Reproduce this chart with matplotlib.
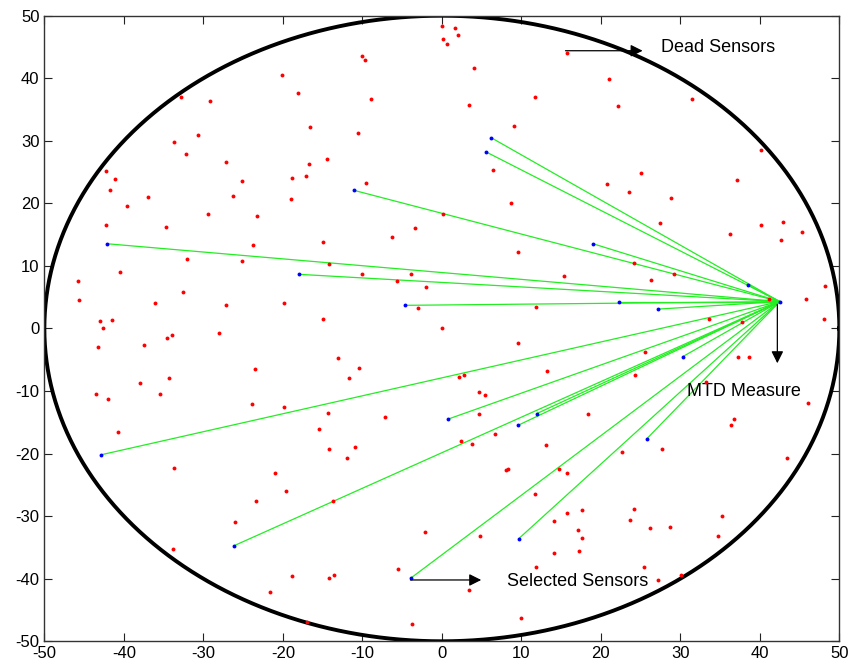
import numpy as np
import matplotlib
matplotlib.use('Agg')
import matplotlib.pyplot as plt

# === Daten ===
# tote Sensoren (rot)
dead_x = [-20.1, -18.1, -32.8, -29.2, -33.7, -30.7, -32.2, -27.1, -25.1, -26.3, -18.8, -19.0,
          -42.2, -41.1, -41.7, -37.0, -39.6, -29.4, -23.2, -42.2, -34.7,
          0.0, 1.6, 2.0, 0.1, 0.6, -10.0, -9.7, 4.1, -8.9, 3.4, 11.7, -16.6, -10.6, 9.1,
          -14.4, -16.7, -17.1, -9.5, 6.4, 8.7, 0.15, -3.4,
          15.8, 21.0, 22.2, 31.5, 40.15, 25.0, 20.8, 23.55, 28.8, 37.1, 27.5, 40.2, 42.9,
          -23.8, -32.1, -25.1, -40.5, -45.8, -45.6, -32.55, -36.1, -27.2, -19.85, -43.0, -41.45,
          -42.6, -34.6, -34.0, -28.0, -43.2, -37.5, -23.5, -38.0, -34.35, -43.5, -35.5, -42.0,
          -23.9, -19.85, -40.7,
          -6.3, -14.9, 9.55, -14.2, -10.1, -3.9, -5.6, -1.95, 15.4, -3.0, 11.9, -14.9, 0.0,
          9.55, -13.1, -10.45, -11.7, 13.2, 2.1, 2.8, 4.7, 5.4, -14.3, -7.2, 4.7, -15.4, 6.65,
          2.45, 3.76, 13.15, -14.2, -10.9,
          36.25, 45.3, 42.7, 24.2, 29.2, 26.35, 48.2, 45.85, 41.2, 48.1, 33.6, 37.7, 25.6,
          37.3, 38.6, 24.3, 33.2, 46.1, 18.4, 36.7, 36.4, 27.7,
          -33.7, -21.0, -19.6, -23.4, -26.0, -33.8, -18.8, -21.65,
          -11.9, -13.7, 8.1, 8.3, 14.7, 15.8, 11.7, 15.8, 14.1, 17.1, 17.2, 14.1, 11.8, -2.1,
          4.8, -5.5, -14.2, -13.6, 3.4, -3.8, 10.0, -16.9,
          22.7, 43.4, 17.6, 24.2, 23.7, 26.2, 28.7, 35.2, 34.7, 17.6, 25.4, 27.2, 30.1]
dead_y = [40.6, 37.6, 37.0, 36.4, 29.8, 30.9, 27.9, 26.6, 23.5, 21.2, 24.1, 20.65,
          25.2, 23.85, 22.1, 21.0, 19.6, 18.35, 18.0, 16.6, 16.3,
          48.3, 48.0, 46.9, 46.3, 45.5, 43.5, 42.9, 41.7, 36.7, 35.7, 37.05, 32.2, 31.3, 32.4,
          27.1, 26.25, 24.3, 23.25, 25.3, 20.1, 18.35, 16.0,
          44.0, 39.9, 35.6, 36.7, 28.5, 24.8, 23.15, 21.8, 20.8, 23.7, 16.85, 16.55, 17.1,
          13.4, 11.05, 10.8, 9.0, 7.6, 4.5, 5.9, 4.1, 3.7, 4.0, 1.25, 1.4,
          0.0, -1.5, -1.1, -0.8, -3.0, -2.7, -6.5, -8.7, -7.9, -10.4, -10.5, -11.3,
          -12.1, -12.55, -16.6,
          14.6, 13.9, 12.3, 10.3, 8.65, 8.65, 7.65, 6.6, 8.4, 3.3, 3.4, 1.5, 0.0,
          -2.3, -4.7, -6.3, -7.9, -6.8, -7.8, -7.4, -10.1, -10.6, -13.5, -14.2, -13.7, -16.1, -16.9,
          -18.0, -18.5, -18.6, -19.3, -19.0,
          15.15, 15.5, 14.2, 10.5, 8.75, 7.75, 6.85, 4.65, 4.65, 1.5, 1.5, 1.0, -3.75,
          -4.6, -4.6, -7.5, -8.5, -11.9, -13.6, -14.5, -15.5, -19.2,
          -22.3, -23.1, -26.0, -27.5, -31.0, -35.25, -39.5, -42.1,
          -20.65, -27.6, -22.7, -22.5, -22.5, -23.1, -26.5, -29.5, -30.7, -32.2, -35.5, -35.9, -38.2, -32.5,
          -33.2, -38.4, -39.9, -39.35, -41.85, -47.3, -46.2, -46.9,
          -19.8, -20.75, -29.0, -28.8, -30.6, -31.95, -31.7, -29.9, -33.2, -33.5, -38.1, -40.2, -39.35]

# ausgewaehlte Sensoren (blau)
sel_x = [6.2, 5.6, -11.1, -42.15, -18.0, -4.67, 0.82, 11.94, 9.55, 19.0,
         38.55, 22.25, 27.2, 30.3, 25.8, -42.9, -26.1, -3.9, 9.67]
sel_y = [30.5, 28.2, 22.1, 13.55, 8.66, 3.7, -14.47, -13.6, -15.5, 13.55,
         6.9, 4.3, 3.1, -4.5, -17.6, -20.2, -34.7, -39.9, -33.6]

# MTD-Messpunkt
mtd_x, mtd_y = 42.5, 4.3
radius = 50
# ======================

plt.rcParams['font.family'] = ['Liberation Sans', 'DejaVu Sans']
plt.rcParams['axes.unicode_minus'] = False

fig = plt.figure(figsize=(8.53, 6.68), dpi=100)
ax = fig.add_axes([0.052, 0.04, 0.932, 0.9365])

# Rand des Sensorfeldes
t = np.linspace(0, 2 * np.pi, 721)
ax.plot(radius * np.cos(t), radius * np.sin(t), color='k', lw=2.8, zorder=2)

for sx, sy in zip(sel_x, sel_y):
    ax.plot([mtd_x, sx], [mtd_y, sy], color='#22ee22', lw=0.9, zorder=3)

ax.plot(dead_x, dead_y, 'o', color='red', ms=2.8, mew=0, zorder=4)
ax.plot(sel_x, sel_y, 'o', color='blue', ms=2.8, mew=0, zorder=5)
ax.plot([mtd_x], [mtd_y], 'o', color='blue', ms=2.8, mew=0, zorder=5)

arrow = dict(arrowstyle='-|>', color='k', lw=0.9, mutation_scale=18)
ax.annotate('', xy=(25.6, 44.4), xytext=(15.2, 44.4), arrowprops=arrow, zorder=6)
ax.text(27.6, 44.9, 'Dead Sensors', fontsize=13, va='center', ha='left')
ax.annotate('', xy=(42.2, -6.0), xytext=(42.2, 4.3), arrowprops=arrow, zorder=6)
ax.text(38.0, -10.1, 'MTD Measure', fontsize=13, va='center', ha='center')
ax.annotate('', xy=(5.3, -40.2), xytext=(-4.3, -40.2), arrowprops=arrow, zorder=6)
ax.text(8.2, -40.5, 'Selected Sensors', fontsize=13, va='center', ha='left')

ax.set_xlim(-50, 50)
ax.set_ylim(-50, 50)
ax.set_xticks(np.arange(-50, 51, 10))
ax.set_yticks(np.arange(-50, 51, 10))
ax.tick_params(direction='in', length=5.5, width=0.8, top=True, right=True,
               labelsize=12, colors='#222222', labelcolor='k')
for s in ax.spines.values():
    s.set_color('#333333')
    s.set_linewidth(1.0)

fig.savefig('out.png', dpi=100)
